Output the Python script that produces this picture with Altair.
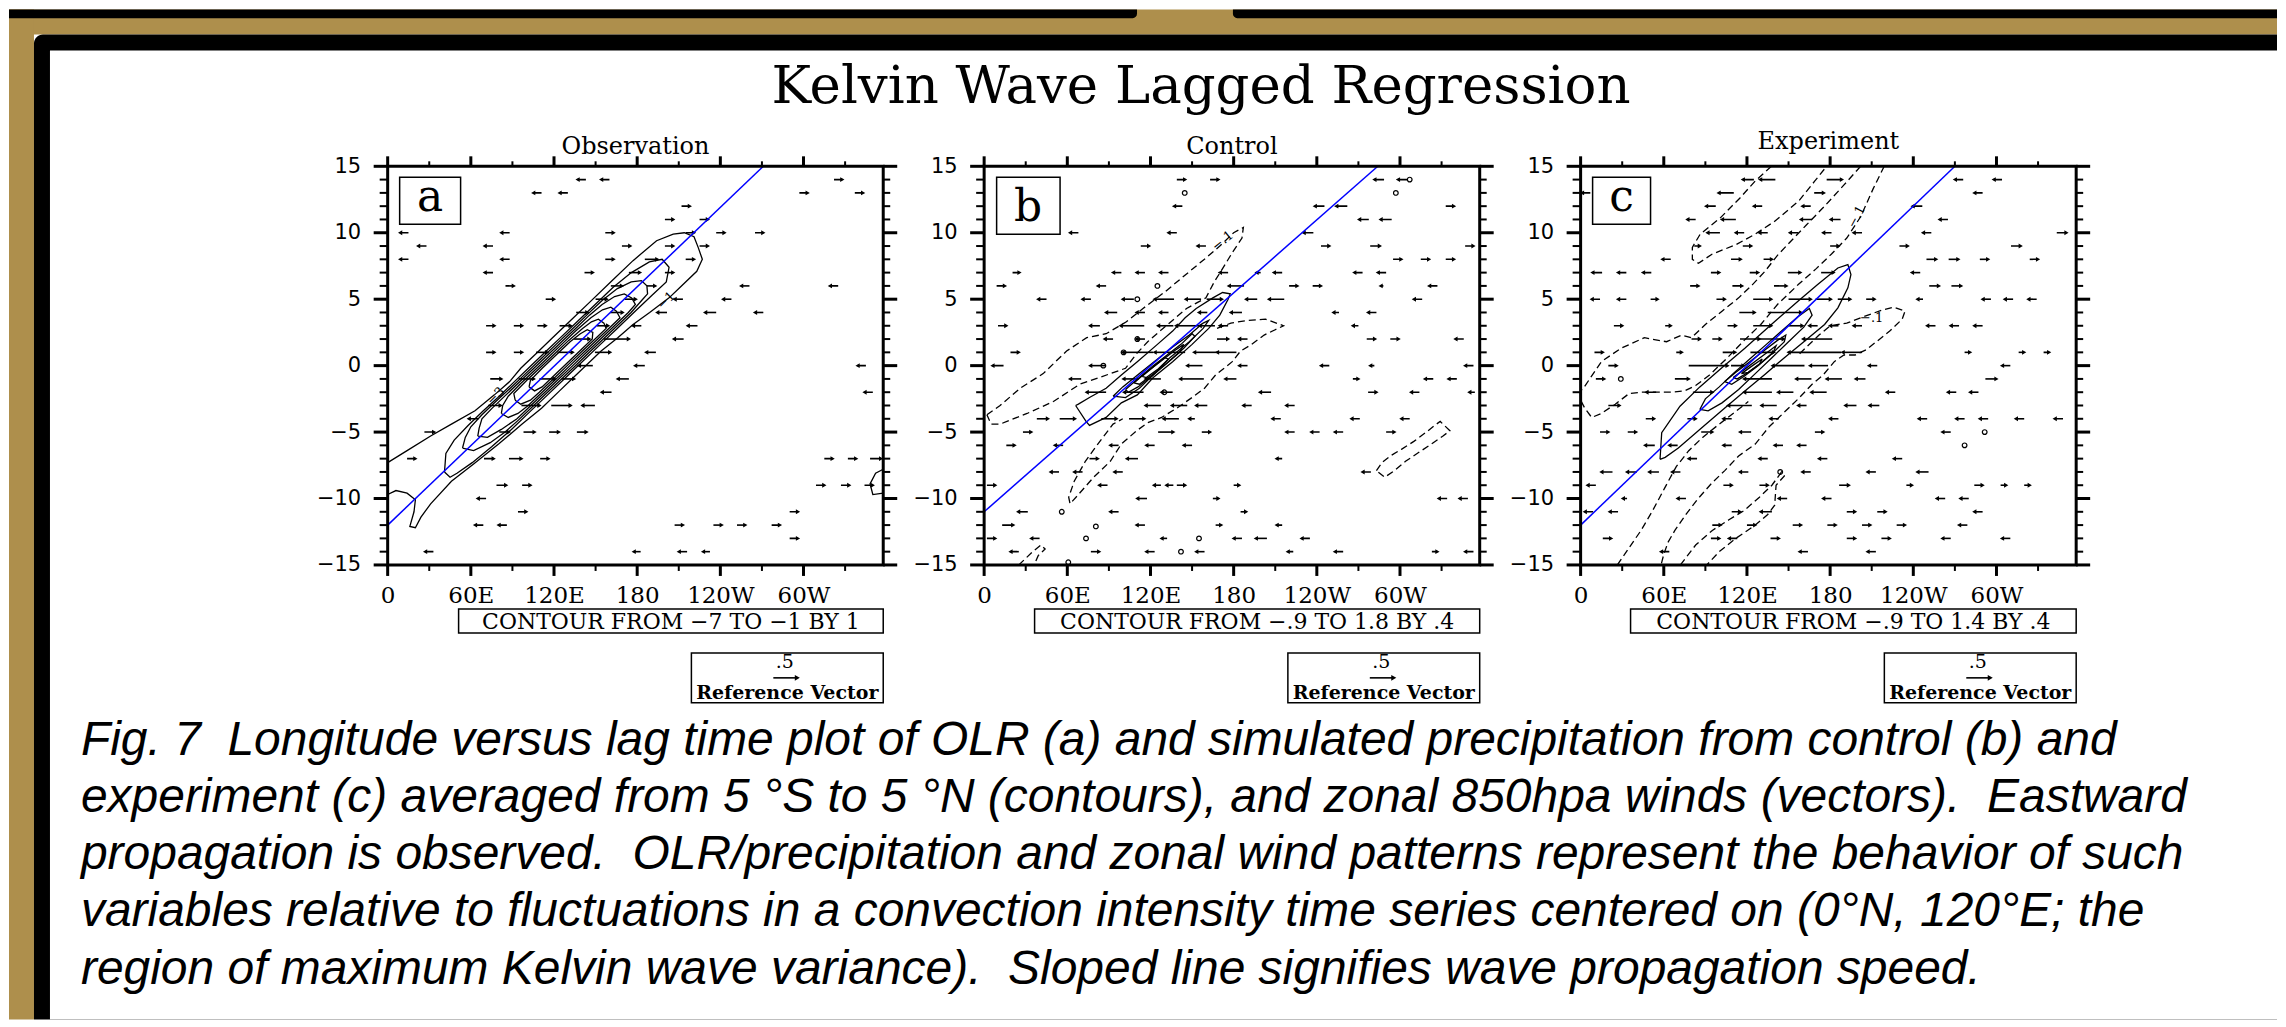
import altair as alt
import pandas as pd

# ---------------- panel geometry ----------------
PW, PH = 496, 399
LON_DOMAIN = [0, 357.5]
LAG_DOMAIN = [-15, 15]
X_MAJOR = [0, 60, 120, 180, 240, 300]
X_MINOR = [30, 90, 150, 210, 270, 330]
Y_MAJOR = [-15, -10, -5, 0, 5, 10, 15]
Y_MINOR = [-14, -13, -12, -11, -9, -8, -7, -6, -4, -3, -2, -1,
           1, 2, 3, 4, 6, 7, 8, 9, 11, 12, 13, 14]

# ---------------- texts ----------------
TITLE = "Kelvin Wave Lagged Regression"
PANEL_TITLES = ["Observation", "Control", "Experiment"]
PANEL_LETTERS = ["a", "b", "c"]
CONTOUR_INFO = ["CONTOUR FROM \u22127 TO \u22121 BY 1",
                "CONTOUR FROM \u2212.9 TO 1.8 BY .4",
                "CONTOUR FROM \u2212.9 TO 1.4 BY .4"]
REF_VALUE = ".5"
REF_LABEL = "Reference Vector"
CAPTION = [
    "Fig. 7  Longitude versus lag time plot of OLR (a) and simulated precipitation from control (b) and",
    "experiment (c) averaged from 5 \u00b0S to 5 \u00b0N (contours), and zonal 850hpa winds (vectors).  Eastward",
    "propagation is observed.  OLR/precipitation and zonal wind patterns represent the behavior of such",
    "variables relative to fluctuations in a convection intensity time series centered on (0\u00b0N, 120\u00b0E; the",
    "region of maximum Kelvin wave variance).  Sloped line signifies wave propagation speed.",
]

# ---------------- propagation (blue) lines: (lon, lag) ----------------
A_BLUE = [(0, -12), (271, 15)]
B_BLUE = [(0, -11), (284, 15)]
C_BLUE = [(0, -12), (270, 15)]

# ---------------- panel a contours (OLR, solid) ----------------
A_M1 = [(0, -7.3), (14, -6.4), (31, -5.3), (46, -4.4), (63, -3.4), (77, -2.2), (88, -1.2), (96, -0.2),
        (107, 0.9), (118, 2.0), (131, 3.3), (146, 4.8), (162, 6.4), (177, 7.9), (194, 9.4), (206, 9.9),
        (214, 10.0), (221, 9.7), (224, 8.9), (227, 8.0), (223, 7.1), (211, 5.9), (203, 5.1), (189, 4.0),
        (177, 3.1), (166, 2.1), (154, 1.1), (144, 0.1), (134, -0.9), (124, -1.9), (111, -3.2), (97, -4.4),
        (80, -5.9), (62, -7.4), (46, -8.7), (31, -10.4), (24, -11.4), (20, -12.2), (16, -12.1), (19, -11.0),
        (20, -10.1), (14, -9.6), (6, -9.4), (0, -9.7)]
A_M2 = [(41, -8.0), (42, -6.6), (48, -5.6), (58, -4.5), (69, -3.4), (79.5, -2.4), (90.5, -1.3), (101.5, -0.2),
        (113.5, 1.0), (125.6, 2.2), (137.6, 3.4), (149.7, 4.6), (162.7, 5.9), (175.8, 7.0), (188.8, 7.8),
        (198, 8.0), (203, 7.4), (201, 6.3), (190.7, 5.3), (177.6, 4.0), (165.6, 2.8), (153.5, 1.6),
        (141.5, 0.4), (128.5, -0.9), (115.4, -2.2), (102.3, -3.5), (89.3, -4.8), (75, -6.1), (61, -7.3),
        (50, -8.1), (45, -8.4), (41, -8.0)]
A_M3 = [(54, -6.2), (56, -5.4), (60, -4.6), (68, -3.7), (78, -2.7), (88.4, -1.7), (99.5, -0.6), (110.5, 0.5),
        (121.5, 1.6), (132.6, 2.7), (143.6, 3.8), (154.7, 4.9), (165.7, 5.8), (175.7, 6.3), (183, 6.4),
        (187, 6.0), (187.5, 5.4), (184, 5.0), (175.6, 4.0), (165.6, 3.0), (155.6, 2.0), (145.5, 1.0),
        (134.5, -0.1), (124.5, -1.1), (114.4, -2.1), (104.4, -3.1), (94.3, -4.1), (84.7, -5.0), (74, -5.8),
        (62, -6.4), (54, -6.2)]
A_M4 = [(65, -5.3), (66, -4.7), (68, -4.0), (75.4, -3.2), (85.4, -2.2), (95.4, -1.2), (105.5, -0.2),
        (115.5, 0.8), (125.5, 1.8), (135.6, 2.8), (145.6, 3.8), (154.7, 4.6), (163.7, 5.2), (170.7, 5.4),
        (176, 5.1), (178.7, 4.6), (173.6, 4.0), (163.6, 3.0), (153.6, 2.0), (143.5, 1.0), (133.5, 0.0),
        (123.4, -1.0), (113.4, -2.0), (103.3, -3.0), (93.3, -4.0), (82, -4.8), (72, -5.4), (65, -5.3)]
A_M5 = [(82, -3.6), (83, -3.0), (87, -2.3), (95.4, -1.4), (105.5, -0.4), (115.5, 0.6), (125.5, 1.6),
        (135.6, 2.6), (146.6, 3.6), (155, 4.2), (161, 4.4), (165, 4.1), (167.6, 3.6), (161.6, 3.0),
        (151.6, 2.0), (141.5, 1.0), (131.5, 0.0), (121.5, -1.0), (111.4, -2.0), (101.4, -3.0), (94, -3.6),
        (87, -3.9), (82, -3.6)]
A_M6 = [(92, -2.6), (91, -2.1), (100.4, -1.1), (110.5, -0.1), (120.5, 0.9), (130.6, 1.9), (140.6, 2.8),
        (147, 3.3), (152, 3.5), (156, 3.2), (157.6, 2.8), (149.6, 2.0), (139.5, 1.0), (129.5, 0.0),
        (119.5, -1.0), (109.4, -2.0), (103, -2.6), (96, -2.9), (92, -2.6)]
A_M7 = [(102, -1.6), (103, -1.1), (111.5, -0.2), (121.5, 0.8), (131.6, 1.8), (139, 2.4), (144, 2.7),
        (148, 2.5), (147.6, 2.0), (139.5, 1.2), (129.5, 0.2), (119.5, -0.8), (111.4, -1.6), (106, -1.9),
        (102, -1.6)]
A_EDGE = [(357.5, -7.8), (352, -8.1), (348, -8.9), (350, -9.7), (357.5, -9.6)]
A_LABELS = [(201, 4.9, "\u22121", 315), (78, -2.3, "\u22123", 315)]

# ---------------- panel b contours (precipitation) ----------------
B_S1 = [(66, -3.0), (73.5, -4.2), (76, -4.5), (88, -3.9), (99, -2.8), (110.5, -2.2), (122, -0.9), (136, 0.3),
        (150, 1.6), (162, 2.8), (170, 3.8), (176, 5.0), (177.5, 5.4), (172, 5.5), (165, 5.1), (153, 4.3),
        (145, 3.6), (136, 2.6), (125, 1.6), (110.5, 0.3), (99, -0.7), (88, -1.7), (76, -2.4), (68, -2.9),
        (66, -3.0)]
B_S2 = [(93, -2.3), (100, -1.6), (112, -0.6), (124, 0.4), (136, 1.4), (148, 2.3), (158, 3.2), (162, 3.4),
        (158, 2.8), (148, 1.8), (134, 0.6), (123, -0.6), (112, -1.7), (102, -2.4), (93, -2.3)]
B_S3 = [(102, -1.8), (112, -0.9), (122, 0.0), (132, 0.8), (142, 1.6), (150, 2.4), (152, 2.2), (144, 1.3),
        (133, 0.3), (122, -0.7), (111, -1.6), (104, -2.0), (102, -1.8)]
B_S4 = [(108, -1.3), (117, -0.5), (127, 0.3), (137, 1.1), (144, 1.6), (141, 1.0), (131, 0.1), (121, -0.7),
        (112, -1.4), (108, -1.3)]
B_S5 = [(114, -0.8), (122, -0.1), (130, 0.6), (133, 0.5), (125, -0.3), (117, -0.9), (114, -0.8)]
B_D1 = [(2, -3.7), (11.5, -3.0), (26, -1.7), (42.6, -0.6), (59.5, 1.1), (74, 2.1), (88, 2.4), (102.6, 3.3),
        (114.6, 4.3), (131, 5.6), (146, 6.9), (160, 8.1), (170, 9.0), (180, 10.0), (187, 10.4), (186, 9.6),
        (179, 8.5), (172, 7.3), (166, 6.3), (160, 5.1), (146, 4.3), (129, 2.8), (118, 1.8), (110, 0.9),
        (102, -0.2), (83, -0.9), (69, -1.4), (50, -2.7), (31, -3.6), (11.5, -4.4), (5, -4.4), (2, -3.7)]
B_D2 = [(168, 2.8), (178, 3.2), (190, 3.4), (203, 3.5), (216, 3.0), (210, 2.7), (202, 2.3), (193, 1.6),
        (185, 1.1), (179, 0.3), (167, -0.7), (159, -1.7), (150, -2.4), (139, -3.2), (128, -3.9), (118, -4.3),
        (110, -4.9), (99, -5.9), (91, -7.2), (79, -8.4), (68, -9.7), (62, -10.4), (61, -9.9), (65, -8.7),
        (73, -7.2), (82, -5.9), (93, -4.4), (100, -4.0)]
B_D3 = [(283, -7.9), (287, -7.3), (293, -6.8), (301, -6.3), (310, -5.7), (319, -5.0), (325, -4.5), (329, -4.2),
        (336, -4.9), (331, -5.3), (324, -5.8), (314, -6.5), (304, -7.2), (296, -7.9), (289, -8.4), (283, -7.9)]
B_D4 = [(25, -15), (30, -14.5), (35, -14.0), (41, -13.5), (44, -13.8), (39, -14.3), (36, -15)]
B_LOOPS = [(110.5, 5.0), (307, 14.0), (297, 13.0), (56, -11.0), (80.6, -12.1), (73.5, -13.0), (142, -14.0),
           (155, -13.0), (86, 0.0), (100.6, 1.0), (110.5, 2.0), (125, 6.0), (144.7, 13.0), (130, -2.0),
           (60.7, -14.8)]
B_LABELS = [(172, 9.4, "\u2212.1", 321)]

# ---------------- panel c contours (precipitation) ----------------
C_S1 = [(57.3, -7.05), (58.5, -5.05), (71.7, -3.05), (86, -1.6), (101.7, -0.17), (118.5, 1.3), (137.6, 3.1),
        (156.8, 4.85), (171, 6.1), (185.6, 7.35), (192.8, 7.6), (195, 6.85), (192.8, 5.85), (185.6, 4.35),
        (176, 3.1), (161.7, 1.85), (147, 0.6), (132.9, -0.66), (118.5, -1.9), (101.7, -3.4), (84.9, -4.9),
        (70.5, -6.2), (61, -6.9), (57.3, -7.05)]
C_S2 = [(86, -3.3), (90, -2.5), (100, -1.6), (110, -0.6), (122, 0.5), (134, 1.6), (146, 2.7), (157, 3.7),
        (165, 4.3), (167, 3.8), (161, 2.9), (150, 1.8), (138, 0.6), (126, -0.6), (114, -1.8), (102, -2.8),
        (92, -3.4), (86, -3.3)]
C_S3 = [(104, -1.2), (112, -0.5), (122, 0.3), (132, 1.1), (142, 1.9), (148, 2.3), (147, 1.8), (138, 0.9),
        (128, 0.0), (118, -0.8), (109, -1.4), (104, -1.2)]
C_S4 = [(110, -0.9), (118, -0.3), (127, 0.4), (136, 1.1), (141, 1.5), (139, 1.0), (130, 0.2), (121, -0.5),
        (113, -1.0), (110, -0.9)]
C_S5 = [(116, -0.6), (124, 0.0), (131, 0.5), (129, 0.1), (121, -0.5), (116, -0.6)]
C_D1 = [(137.6, 15), (126, 13.9), (114.8, 12.6), (100.6, 11.1), (86.3, 9.9), (80.6, 8.9), (80.6, 8.0),
        (85, 7.7), (95, 8.4), (112, 9.1), (126, 9.9), (140.5, 10.9), (157.5, 12.4), (169, 13.9), (177.5, 15)]
C_D2 = [(202, 15), (190, 13.6), (176, 12.0), (163, 10.6), (152, 9.4), (142, 8.3), (133, 7.1), (124, 6.1),
        (114, 5.1), (102, 4.1), (90, 3.1), (80, 2.1), (73, 2.3), (62, 1.8), (51, 2.0), (46, 2.1), (29, 1.3),
        (15, 0.3), (2, -1.7), (0, -1.9)]
C_D3 = [(219, 15), (211, 13.3), (202, 11.2), (192, 9.6), (181, 8.4), (170, 7.3), (157, 6.1), (142, 4.6),
        (130, 3.1), (118, 1.9), (106, 0.6), (93, -0.7), (83, -1.5), (75, -1.9), (66, -2.0), (55, -2.0),
        (44, -2.0), (35, -2.1), (25, -2.9), (15, -3.6), (8, -3.9), (3, -3.2), (0, -2.6)]
C_D4 = [(158, 0.9), (166, 1.7), (172, 2.3), (180, 3.0), (192, 3.2), (202, 3.6), (210, 3.9), (218, 4.2),
        (226, 4.4), (234, 4.1), (232, 3.5), (223, 2.6), (214, 1.85), (206, 1.2), (198, 0.8), (190, 0.8),
        (183, 0.3), (175, -0.7), (167, -1.4), (157, -2.5), (147, -3.5), (136, -4.6), (126, -5.9), (114, -6.8),
        (104, -7.9), (95, -8.8), (84, -10.1), (76, -11.2), (68, -12.4), (63, -13.3), (60, -14.2), (58, -15)]
C_D5 = [(26.5, -15), (35, -13.7), (43.6, -12.4), (52, -10.9), (60.7, -9.2), (69, -7.6), (78, -6.4),
        (88, -5.4), (100, -4.4), (110, -3.6), (121, -2.7)]
C_D6 = [(72, -15), (83, -13.5), (95, -12.4), (107, -11.6), (118, -10.9), (129, -9.9), (138, -9.0),
        (145, -8.0), (147, -8.3), (141, -9.0), (140, -10.5), (135, -11.2), (126, -12.0), (112, -13.0),
        (100, -14.0), (91, -15)]
C_LOOPS = [(277, -6.0), (291.5, -5.0), (29, -1.0), (144, -8.0)]
C_LABELS = [(199, 11.2, "\u2212.1", 298), (210, 3.6, "\u2212.1", 0)]

# ---------------- 850 hPa zonal wind vectors: (lag, lon, u in degrees, sign = direction) ----------------
A_ARROWS = [
    (14, 140, -6), (14, 157, -6), (14, 325, 6),
    (13, 108, -6), (13, 127, -6), (13, 300, 6), (13, 340, 6),
    (12, 215, 6), (11, 203, 6), (11, 228, 6),
    (10, 12, -6), (10, 85, -6), (10, 160, 6), (10, 218, 6), (10, 240, 6), (10, 268, 6),
    (9, 25, -6), (9, 73, -6), (9, 172, 6), (9, 203, 6), (9, 228, 6),
    (8, 12, -6), (8, 85, -6), (8, 160, 6), (8, 190, 9), (8, 218, 6),
    (7, 73, -6), (7, 145, 6), (7, 178, 8), (7, 203, 6),
    (6, 88, 6), (6, 165, 8), (6, 190, 6), (6, 258, -6), (6, 322, -6),
    (5, 117, 6), (5, 154, 8), (5, 175, 8), (5, 210, -6), (5, 245, -6),
    (4, 140, 8), (4, 165, 9), (4, 198, -7), (4, 233, -8), (4, 268, -6),
    (3, 74, 6), (3, 94, 6), (3, 111, 6), (3, 128, 8), (3, 155, 8), (3, 180, -6), (3, 220, -7),
    (2, 140, 11), (2, 165, 18), (2, 210, -7),
    (1, 74, 6), (1, 94, 6), (1, 111, 8), (1, 128, 11), (1, 155, 11), (1, 190, -7),
    (0, 143, -10), (0, 182, -7), (0, 342, -6),
    (-1, 78, 8), (-1, 100, 11), (-1, 115, 11), (-1, 130, 9), (-1, 170, -8),
    (-2, 158, -7), (-2, 347, -6),
    (-3, 77, 9), (-3, 103, 13), (-3, 125, 14), (-3, 145, -9),
    (-4, 62, -7),
    (-5, 30, 7), (-5, 84, 7), (-5, 102, 8), (-5, 120, 7), (-5, 140, 7),
    (-7, 17, 6), (-7, 73, 7), (-7, 92, 9), (-7, 113, 6), (-7, 318, 6), (-7, 335, 6), (-7, 352, 8),
    (-9, 82, 7), (-9, 100, 6), (-9, 312, 6), (-9, 330, 6), (-9, 347, 6),
    (-10, 68, -6), (-11, 97, 6), (-11, 293, 6),
    (-12, 66, -6), (-12, 83, -6), (-12, 210, 6), (-12, 238, 6), (-12, 255, 6), (-12, 280, 6),
    (-13, 293, 6),
    (-14, 30, -6), (-14, 180, -5), (-14, 213, -6), (-14, 230, -5),
]
B_ARROWS = [
    (14, 142, 6), (14, 166, 6), (14, 285, -7), (14, 302, -7),
    (12, 140, -6), (12, 242, -7), (12, 258, -8), (12, 336, 6),
    (11, 274, -7), (11, 290, -8),
    (10, 65, -6), (10, 136, -6), (10, 234, -7),
    (9, 116, 6), (9, 157, -6), (9, 246, 6), (9, 282, 7), (9, 350, 6),
    (8, 298, 6), (8, 318, 6), (8, 336, 6),
    (7, 23, 5), (7, 96, -6), (7, 113, -6), (7, 130, -6), (7, 173, -6), (7, 198, -3), (7, 212, -6),
    (7, 270, -6), (7, 287, -6),
    (6, 12, 6), (6, 85, -6), (6, 182, -11), (6, 223, 6), (6, 240, 6), (6, 287, -2), (6, 324, -6),
    (5, 42, -6), (5, 74, -6), (5, 104, -8), (5, 130, -14), (5, 151, -11), (5, 166, 11), (5, 193, -8),
    (5, 211, -11), (5, 313, -6),
    (4, 92, -8), (4, 113, -6), (4, 130, -6), (4, 158, -6), (4, 182, -8), (4, 254, -4), (4, 280, -6),
    (3, 13, 6), (3, 80, -7), (3, 107, -17), (3, 131, -11), (3, 147, -17), (3, 161, -11), (3, 173, -6),
    (3, 268, -4),
    (2, 90, -6), (2, 113, -6), (2, 172, 8), (2, 187, -6), (2, 279, 6), (2, 296, 6), (2, 343, -6),
    (1, 22, 6), (1, 111, -22), (1, 134, -22), (1, 160, -17), (1, 175, -14),
    (0, 10, -8), (0, 82, -11), (0, 152, -11), (0, 187, -6), (0, 246, -6), (0, 280, -3), (0, 350, -6),
    (-1, 66, -8), (-1, 106, -11), (-1, 122, -11), (-1, 150, -17), (-1, 178, -8), (-1, 268, 4),
    (-1, 321, -6), (-1, 338, -6),
    (-2, 81, -14), (-2, 108, -14), (-2, 132, -8), (-2, 203, -8), (-2, 280, 6), (-2, 311, -6), (-2, 352, -4),
    (-3, 122, -11), (-3, 141, -11), (-3, 157, -8), (-3, 190, -6), (-3, 221, -6),
    (-4, 42, 8), (-4, 60, 11), (-4, 90, 11), (-4, 110, 11), (-4, 135, -11), (-4, 150, -4), (-4, 211, -6),
    (-4, 268, -6), (-4, 304, -6),
    (-5, 31, 6), (-5, 131, 11), (-5, 160, 6), (-5, 221, -6), (-5, 239, -6), (-5, 256, -6), (-5, 293, 6),
    (-6, 19, 6), (-6, 54, -6), (-6, 94, -6), (-6, 120, -6), (-6, 147, -6),
    (-7, 79, 6), (-7, 107, -8), (-7, 213, -4),
    (-8, 51, -6), (-8, 68, -6), (-8, 97, -6), (-8, 276, -6),
    (-9, 5, 6), (-9, 86, -6), (-9, 125, -5), (-9, 134, -5), (-9, 142, 6), (-9, 182, 4),
    (-10, 114, -7), (-10, 167, 4), (-10, 331, -6), (-10, 346, -6),
    (-11, 28, -7), (-11, 94, -6), (-11, 187, 4),
    (-12, 17, 8), (-12, 113, -6), (-12, 169, 4), (-12, 213, -4),
    (-13, 5, 6), (-13, 37, -6), (-13, 130, -4), (-13, 183, -6), (-13, 200, -8), (-13, 232, -6),
    (-14, 22, -6), (-14, 80, 6), (-14, 120, -6), (-14, 156, -6), (-14, 221, -4), (-14, 256, -6),
    (-14, 325, 4), (-14, 350, -6),
]
C_ARROWS = [
    (14, 121, -8), (14, 135, -11), (14, 183, 11), (14, 273, -6), (14, 301, -6),
    (13, 4, -6), (13, 105, -11), (13, 172, 7), (13, 287, -6),
    (12, 94, -7), (12, 128, -6), (12, 163, -6), (12, 243, -7),
    (11, 80, -6), (11, 107, -10), (11, 163, -8), (11, 184, -7), (11, 262, -6),
    (10, 96, -9), (10, 115, -6), (10, 132, -6), (10, 154, -6), (10, 178, -6), (10, 200, -6), (10, 250, -6),
    (10, 347, 7),
    (9, 84, 4), (9, 120, 6), (9, 183, 6), (9, 233, 6), (9, 314, 7),
    (8, 62, -6), (8, 112, 7), (8, 135, 6), (8, 253, 7), (8, 269, 7), (8, 291, 6), (8, 327, 6),
    (7, 12, -7), (7, 30, -6), (7, 48, -6), (7, 97, 6), (7, 125, 6), (7, 154, 9), (7, 178, 9), (7, 242, -6),
    (6, 82, 6), (6, 113, 7), (6, 144, 9), (6, 255, 7), (6, 271, 7),
    (5, 11, -6), (5, 30, -6), (5, 53, 5), (5, 101, 6), (5, 131, 13), (5, 158, 16), (5, 175, 11),
    (5, 190, 9), (5, 209, 6), (5, 245, -4), (5, 293, -6), (5, 309, -6), (5, 326, -6),
    (4, 120, 11), (4, 147, 24),
    (3, 27, 6), (3, 63, 4), (3, 109, 6), (3, 131, 13), (3, 155, 10), (3, 168, -6), (3, 183, -6),
    (3, 200, -6), (3, 253, -6), (3, 270, -6), (3, 287, -6),
    (2, 83, 6), (2, 98, 6), (2, 122, 14), (2, 138, 17), (2, 171, -21),
    (1, 13, 6), (1, 71, 4), (1, 107, 9), (1, 131, 17), (1, 169, -38), (1, 196, -14), (1, 279, 4),
    (1, 318, 4), (1, 336, 4),
    (0, 23, 6), (0, 92, 28), (0, 113, 9), (0, 150, -23), (0, 172, -13), (0, 211, -6), (0, 307, -6),
    (-1, 14, 6), (-1, 73, 10), (-1, 128, -20), (-1, 161, -11), (-1, 183, -11), (-1, 202, -7), (-1, 296, 8),
    (-2, 51, -7), (-2, 88, 14), (-2, 128, -20), (-2, 148, -11), (-2, 172, -11), (-2, 224, -6),
    (-2, 268, -6), (-2, 284, -6),
    (-3, 24, 8), (-3, 115, -17), (-3, 136, -11), (-3, 160, -6), (-3, 195, -8), (-3, 212, -7),
    (-4, 50, 6), (-4, 80, 6), (-4, 106, -6), (-4, 140, -6), (-4, 183, -6), (-4, 247, -6), (-4, 274, -6),
    (-4, 291, -6), (-4, 317, -6), (-4, 345, -6),
    (-5, 17, 6), (-5, 37, 6), (-5, 91, 8), (-5, 119, -8), (-5, 172, 6), (-5, 264, -6),
    (-6, 50, -7), (-6, 67, -6), (-6, 106, -6), (-6, 143, -6), (-6, 160, -6),
    (-7, 81, -6), (-7, 132, -6), (-7, 175, -6), (-7, 229, -6),
    (-8, 19, -8), (-8, 37, -7), (-8, 53, -7), (-8, 69, -6), (-8, 118, -6), (-8, 163, -6), (-8, 210, -6),
    (-8, 247, -8),
    (-9, 8, -6), (-9, 106, 6), (-9, 132, 6), (-9, 190, 7), (-9, 237, 4), (-9, 287, 6), (-9, 305, 4),
    (-9, 322, 4),
    (-10, 32, -3), (-10, 73, -6), (-10, 146, -6), (-10, 178, -6), (-10, 260, -6), (-10, 277, -6),
    (-11, 6, -6), (-11, 24, -6), (-11, 112, 6), (-11, 134, -8), (-11, 195, 6), (-11, 217, 6), (-11, 287, -6),
    (-12, 98, 6), (-12, 123, 6), (-12, 156, 6), (-12, 181, 6), (-12, 206, 6), (-12, 231, 6), (-12, 276, -6),
    (-13, 19, 6), (-13, 97, 6), (-13, 110, -6), (-13, 140, 6), (-13, 195, 6), (-13, 220, 6),
    (-13, 264, -6), (-13, 307, -6),
    (-14, 61, -6), (-14, 161, -6), (-14, 210, -6),
]

# ---------------- helpers ----------------
ONE = pd.DataFrame({"k": [0]})
XS = alt.Scale(domain=LON_DOMAIN, nice=False, zero=False)
YS = alt.Scale(domain=LAG_DOMAIN, nice=False, zero=False)
X_AXIS = alt.Axis(
    values=X_MAJOR,
    labelExpr="datum.value == 0 ? '0' : (datum.value < 180 ? datum.value + 'E' : "
              "(datum.value == 180 ? '180' : (360 - datum.value) + 'W'))",
    ticks=False, tickSize=0, domain=False, grid=False, title=None,
    labelFont="DejaVu Serif", labelFontSize=23, labelPadding=20, labelColor="black",
    labelFlush=False, labelOverlap=False, zindex=1)
Y_AXIS = alt.Axis(
    values=Y_MAJOR, ticks=False, tickSize=0, domain=False, grid=False, title=None,
    labelFont="DejaVu Sans", labelFontSize=21, labelPadding=27, labelColor="black",
    labelFlush=False, labelOverlap=False, zindex=1)


def X(f):
    return alt.X(f"{f}:Q", scale=XS, axis=X_AXIS)


def Y(f):
    return alt.Y(f"{f}:Q", scale=YS, axis=Y_AXIS)


def lines_df(paths):
    rows = []
    for cid, pts in enumerate(paths):
        for k, (lo, la) in enumerate(pts):
            rows.append({"cid": cid, "ord": k, "lon": lo, "lag": la})
    return pd.DataFrame(rows)


def arrows_df(arrs):
    return pd.DataFrame([{"lag": a, "x0": b - c / 2.0, "x1": b + c / 2.0, "dir": "r" if c > 0 else "l"}
                         for a, b, c in arrs])


def vrect(x0, x1, y0, y1, **kw):
    return alt.Chart(ONE).mark_rect(**kw).encode(
        x=alt.value(x0), x2=alt.value(x1), y=alt.value(y0), y2=alt.value(y1))


def vtext(txt, x, y, **kw):
    return alt.Chart(ONE).mark_text(**kw).encode(x=alt.value(x), y=alt.value(y), text=alt.value(txt))


def tick_layers():
    ymaj = pd.DataFrame({"lag": Y_MAJOR})
    ymin = pd.DataFrame({"lag": Y_MINOR})
    xmaj = pd.DataFrame({"lon": X_MAJOR})
    xmin = pd.DataFrame({"lon": X_MINOR})
    out = []
    for df, a, b, w in [(ymaj, -14, 0, 3), (ymin, -8, 0, 2), (ymaj, PW, PW + 14, 3), (ymin, PW, PW + 7, 2)]:
        out.append(alt.Chart(df).mark_rule(color="black", strokeWidth=w).encode(
            y=Y("lag"), x=alt.value(a), x2=alt.value(b)))
    for df, a, b, w in [(xmaj, PH, PH + 11, 3), (xmin, PH, PH + 6, 2), (xmaj, -10, 0, 3), (xmin, -5, 0, 2)]:
        out.append(alt.Chart(df).mark_rule(color="black", strokeWidth=w).encode(
            x=X("lon"), y=alt.value(a), y2=alt.value(b)))
    return out


# ---------------- background / frame of the slide (relative to panel a origin) ----------------
GOLD = "#ae8f4c"
P_L, P_R, P_T, P_B = -379, 1891, -157, 854


def slide_layers():
    out = [
        vrect(P_L, P_R, P_T, P_B, color="white"),
        vrect(P_L, P_R, P_T, -132, color=GOLD),
        vrect(P_L, -354, P_T, P_B, color=GOLD),
        vrect(P_L, 750, P_T, -148.3, color="black", cornerRadiusBottomRight=8),
        vrect(846, P_R, P_T, -148.3, color="black", cornerRadiusBottomLeft=8),
        vrect(-354, P_R, -132, P_B, color="black", cornerRadiusTopLeft=9),
        vrect(-338, P_R, -116, P_B, color="white"),
        vtext(TITLE, 814, -63, font="DejaVu Serif", fontSize=53, align="center",
              baseline="alphabetic", color="black"),
    ]
    baselines = [589, 646, 703, 760, 818]
    for line, yb in zip(CAPTION, baselines):
        out.append(vtext(line.replace("  ", "\u00a0 "), -307, yb, font="Liberation Sans", fontSize=48,
                         fontStyle="italic", align="left", baseline="alphabetic", color="black"))
    return out


LETTER_BOX = [(12, 73, 11, 58), (12.5, 76, 11, 68), (12, 70, 11, 58)]
LETTER_XY = [(42.5, 45), (44, 55), (41, 45)]
TITLE_Y = [-12, -12, -17]
CBOX_X0 = [71, 50.5, 50]


def build_panel(i, solids, dashed, loops, arrows, blue, labels, pre=None):
    layers = list(pre or [])
    layers += tick_layers()
    layers.append(alt.Chart(lines_df(solids)).mark_line(color="black", strokeWidth=1.3, clip=True).encode(
        x=X("lon"), y=Y("lag"), detail="cid:N", order="ord:Q"))
    if dashed:
        layers.append(alt.Chart(lines_df(dashed)).mark_line(
            color="black", strokeWidth=1.3, strokeDash=[7, 4], clip=True).encode(
            x=X("lon"), y=Y("lag"), detail="cid:N", order="ord:Q"))
    if loops:
        layers.append(alt.Chart(pd.DataFrame(loops, columns=["lon", "lag"])).mark_point(
            shape="circle", filled=False, size=22, color="black", strokeWidth=1.2, opacity=1, clip=True).encode(
            x=X("lon"), y=Y("lag")))
    adf = arrows_df(arrows)
    layers.append(alt.Chart(adf).mark_rule(color="black", strokeWidth=1.6, clip=True).encode(
        x=X("x0"), x2="x1:Q", y=Y("lag")))
    layers.append(alt.Chart(adf).mark_point(filled=True, size=24, color="black", opacity=1, clip=True).encode(
        x=X("x1"), y=Y("lag"),
        shape=alt.Shape("dir:N", scale=alt.Scale(domain=["r", "l"], range=["triangle-right", "triangle-left"]),
                        legend=None)))
    layers.append(alt.Chart(pd.DataFrame(blue, columns=["lon", "lag"])).mark_line(
        color="#0000ff", strokeWidth=1.5, clip=True).encode(x=X("lon"), y=Y("lag")))
    layers.append(alt.Chart(pd.DataFrame(labels, columns=["lon", "lag", "txt", "ang"])).mark_text(
        font="DejaVu Serif", fontSize=13, color="black").encode(
        x=X("lon"), y=Y("lag"), text="txt:N", angle=alt.Angle("ang:Q", scale=None)))
    # plot frame
    layers.append(vrect(0, PW, 0, PH, fillOpacity=0, stroke="black", strokeWidth=3))
    # annotations
    bx0, bx1, by0, by1 = LETTER_BOX[i]
    layers.append(vrect(bx0, bx1, by0, by1, fill="white", stroke="black", strokeWidth=1.5))
    lx, ly = LETTER_XY[i]
    layers.append(vtext(PANEL_LETTERS[i], lx, ly, font="DejaVu Serif", fontSize=44, align="center",
                        baseline="alphabetic", color="black"))
    layers.append(vtext(PANEL_TITLES[i], PW / 2, TITLE_Y[i], font="DejaVu Serif", fontSize=24,
                        align="center", baseline="alphabetic", color="black"))
    layers.append(vrect(CBOX_X0[i], PW, 443, 467, fill="white", stroke="black", strokeWidth=1.5))
    layers.append(vtext(CONTOUR_INFO[i], (CBOX_X0[i] + PW) / 2, 463, font="DejaVu Serif", fontSize=22,
                        align="center", baseline="alphabetic", color="black"))
    layers.append(vrect(304, PW, 487, 537, fill="white", stroke="black", strokeWidth=1.5))
    layers.append(vtext(REF_VALUE, 397.5, 502, font="DejaVu Serif", fontSize=19, align="center",
                        baseline="alphabetic", color="black"))
    layers.append(alt.Chart(ONE).mark_rule(color="black", strokeWidth=1.6).encode(
        x=alt.value(386), x2=alt.value(409), y=alt.value(512)))
    layers.append(alt.Chart(ONE).mark_point(shape="triangle-right", filled=True, size=34, color="black",
                                            opacity=1).encode(x=alt.value(410), y=alt.value(512)))
    layers.append(vtext(REF_LABEL, 400, 533, font="DejaVu Serif", fontSize=19, fontWeight="bold",
                        align="center", baseline="alphabetic", color="black"))
    return alt.layer(*layers).properties(width=PW, height=PH)


pa = build_panel(0, [A_M1, A_M2, A_M3, A_M4, A_M5, A_M6, A_M7, A_EDGE], [], [], A_ARROWS, A_BLUE, A_LABELS,
                 pre=slide_layers())
pb = build_panel(1, [B_S1, B_S2, B_S3, B_S4, B_S5], [B_D1, B_D2, B_D3, B_D4], B_LOOPS, B_ARROWS, B_BLUE,
                 B_LABELS)
pc = build_panel(2, [C_S1, C_S2, C_S3, C_S4, C_S5], [C_D1, C_D2, C_D3, C_D4, C_D5, C_D6], C_LOOPS, C_ARROWS,
                 C_BLUE, C_LABELS)

chart = alt.hconcat(pa, pb, pc, spacing=101, bounds="flush").properties(
    padding=0, background="white").configure_view(stroke="transparent")

chart.save("out.html", embed_options={"renderer": "svg", "actions": False})
